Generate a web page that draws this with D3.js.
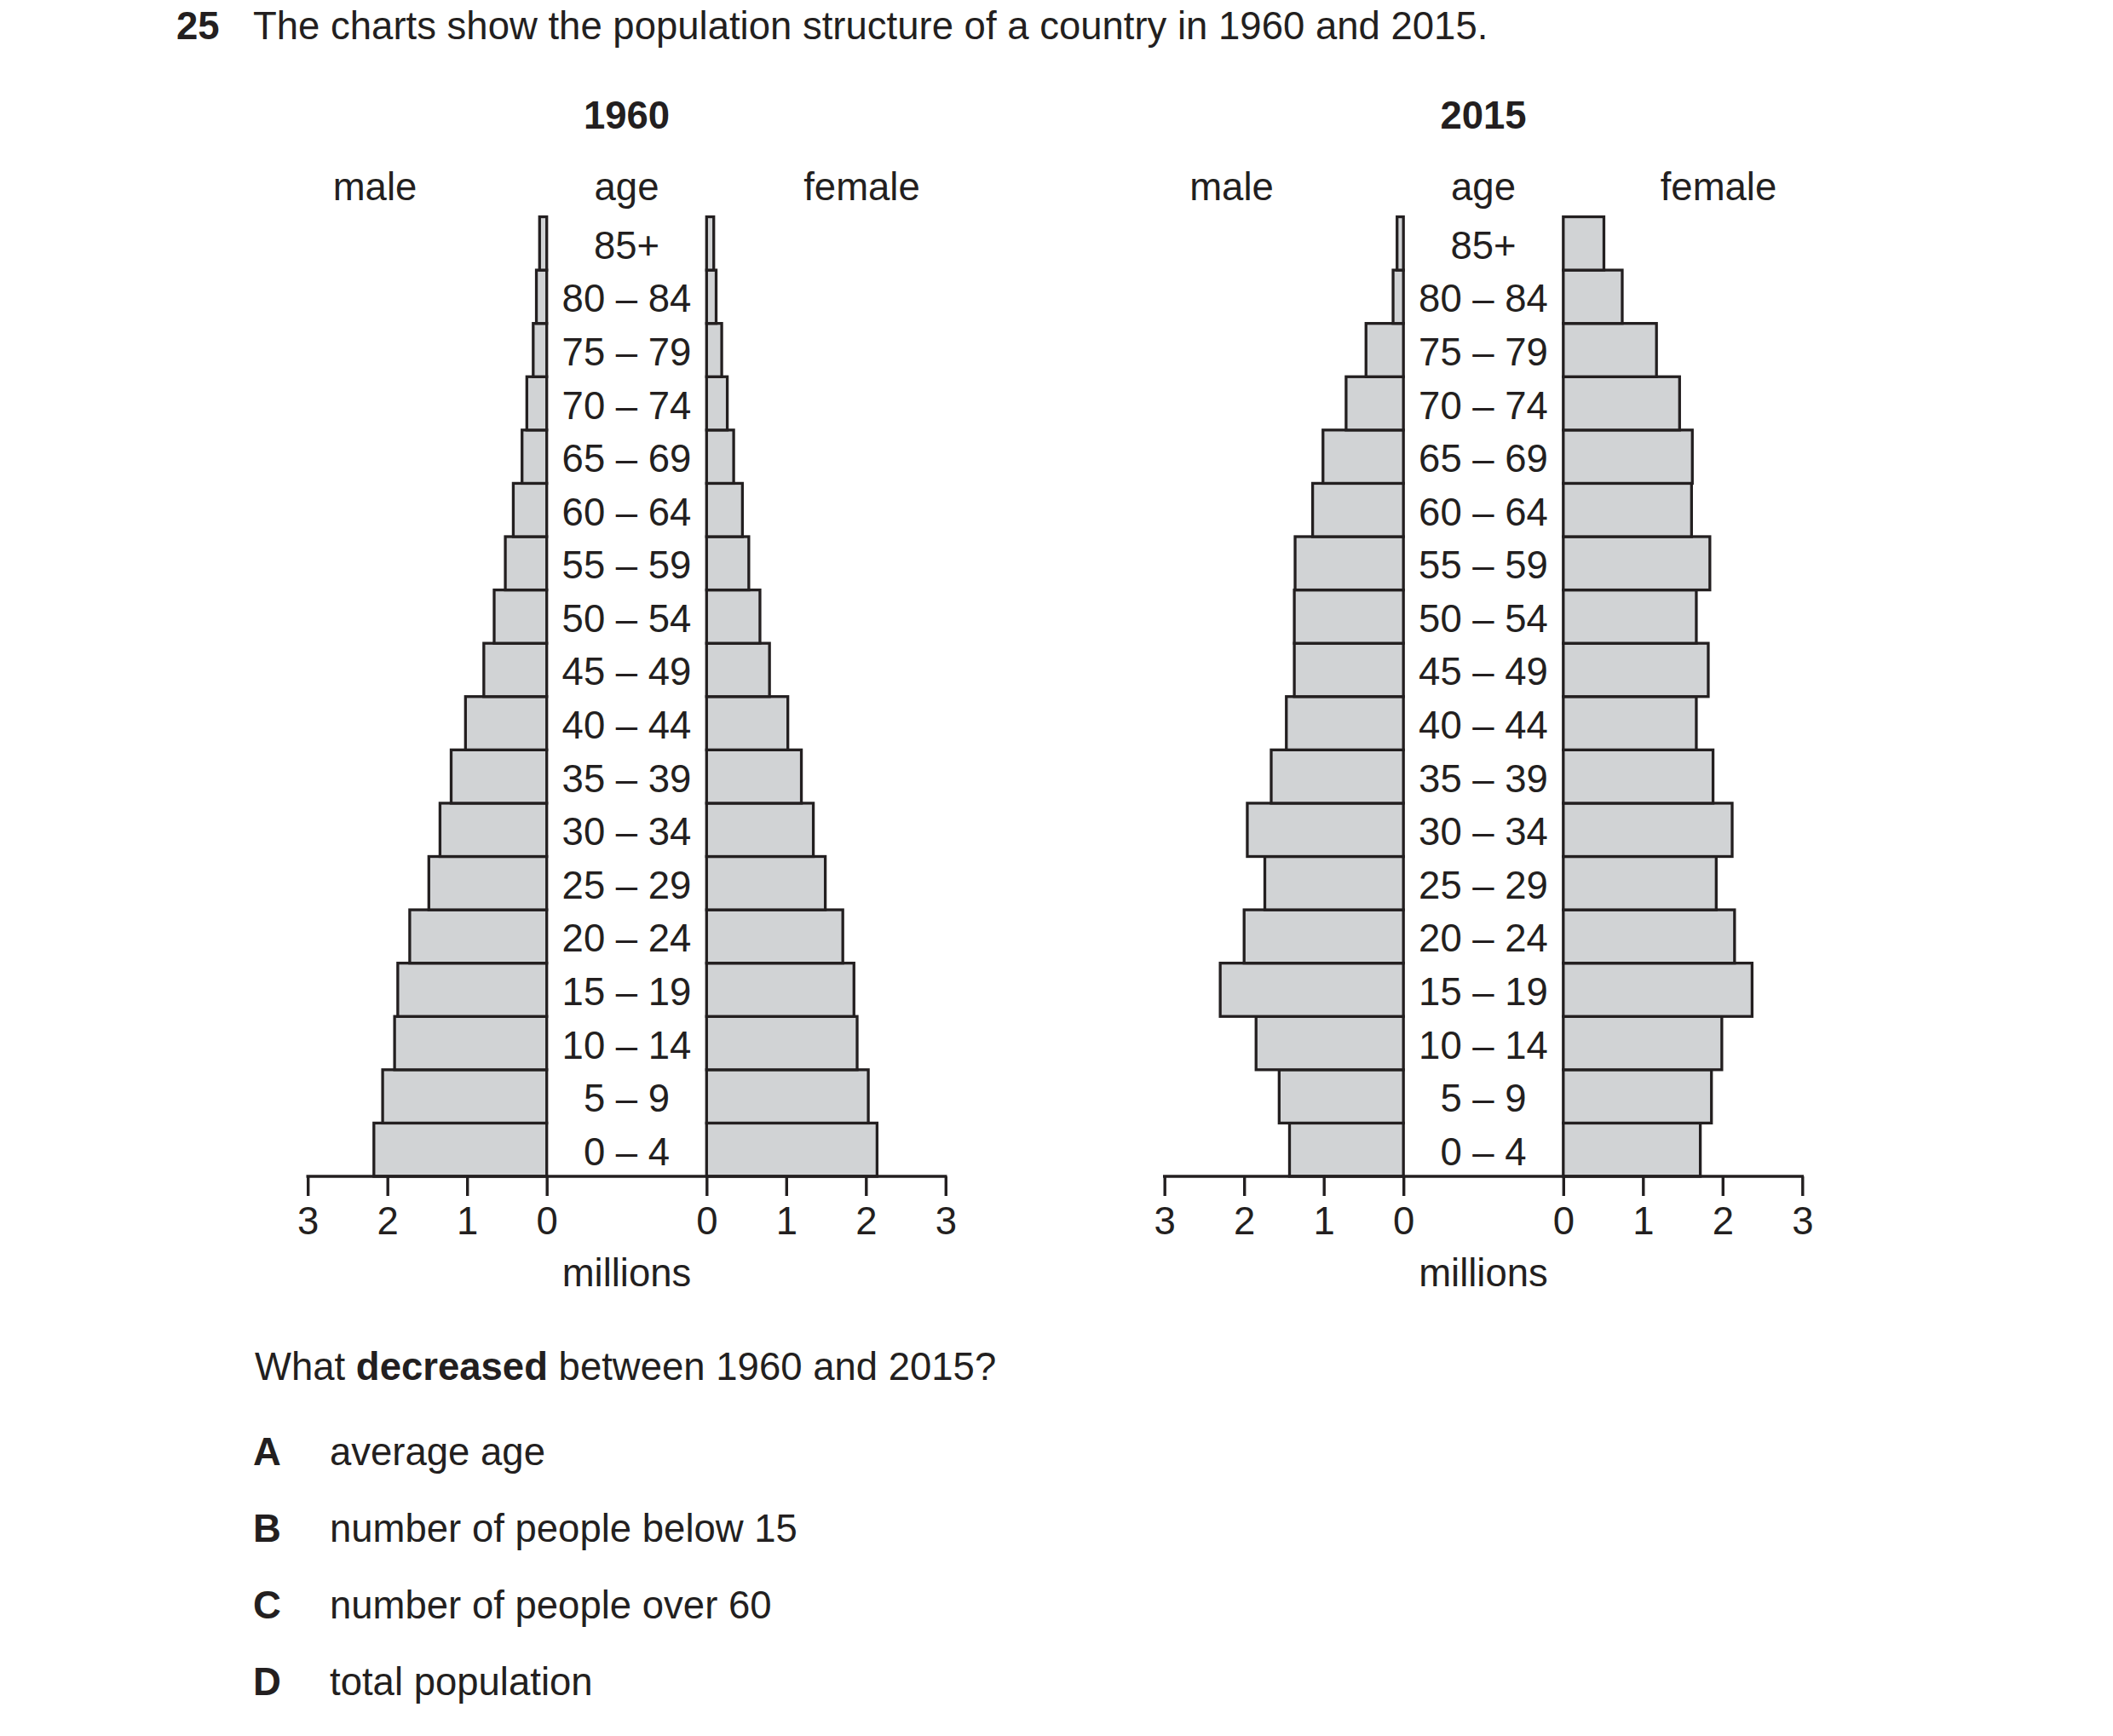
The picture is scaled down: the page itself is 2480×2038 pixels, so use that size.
<!DOCTYPE html>
<html>
<head>
<meta charset="utf-8">
<script src="https://cdn.jsdelivr.net/npm/d3@7/dist/d3.min.js"></script>
<style>
  html, body { margin: 0; padding: 0; background: #ffffff; }
  svg { display: block; }
  text { font-family: "Liberation Sans", Arial, Helvetica, sans-serif; fill: #231f20; }
</style>
</head>
<body>
<svg id="chart" width="2480" height="2038"></svg>
<script>
// ---- data ----
const ages = ["0 – 4","5 – 9","10 – 14","15 – 19","20 – 24","25 – 29","30 – 34","35 – 39",
  "40 – 44","45 – 49","50 – 54","55 – 59","60 – 64","65 – 69","70 – 74","75 – 79","80 – 84","85+"];
const male1960   = [2.17,2.06,1.91,1.87,1.72,1.48,1.34,1.20,1.02,0.79,0.66,0.52,0.42,0.31,0.25,0.17,0.13,0.09];
const female1960 = [2.14,2.03,1.89,1.85,1.71,1.49,1.34,1.19,1.02,0.79,0.67,0.53,0.45,0.34,0.26,0.19,0.12,0.09];
const male2015   = [1.43,1.56,1.85,2.30,2.00,1.74,1.96,1.66,1.47,1.37,1.37,1.36,1.14,1.01,0.72,0.47,0.13,0.08];
const female2015 = [1.72,1.86,1.99,2.37,2.15,1.92,2.12,1.88,1.67,1.82,1.67,1.84,1.61,1.62,1.46,1.17,0.74,0.51];
const years = ["1960","2015"];
const tickValues = [0,1,2,3];
const questionNumber = "25";
const titleText = "The charts show the population structure of a country in 1960 and 2015.";
const options = [
  ["A","average age"],
  ["B","number of people below 15"],
  ["C","number of people over 60"],
  ["D","total population"]
];

// ---- layout ----
const svg = d3.select("#chart");
const FS = 45.5;
const ink = "#231f20";
const fillGrey = "#d1d3d5";
const plotTop = 254.5, axisY = 1381;
const chartOffsets = [0, 1005.5];
const maleZero = 641.7, femaleZero = 829.3, span = 280.5, center = 735.5;

const y = d3.scaleBand().domain(ages.slice().reverse()).range([plotTop, axisY]).padding(0);

svg.append("text").attr("x", 207).attr("y", 46).attr("font-size", FS).attr("font-weight", "bold").text(questionNumber);
svg.append("text").attr("x", 297).attr("y", 46).attr("font-size", FS).text(titleText);

const datasets = [[male1960, female1960], [male2015, female2015]];

datasets.forEach((ds, i) => {
  const off = chartOffsets[i];
  const g = svg.append("g").attr("transform", `translate(${off},0)`);
  const xM = d3.scaleLinear().domain([0, 3]).range([maleZero, maleZero - span]);
  const xF = d3.scaleLinear().domain([0, 3]).range([femaleZero, femaleZero + span]);
  const [m, f] = ds;

  g.append("text").attr("x", center).attr("y", 151).attr("text-anchor", "middle")
    .attr("font-size", FS).attr("font-weight", "bold").text(years[i]);
  g.append("text").attr("x", 440).attr("y", 235).attr("text-anchor", "middle").attr("font-size", FS).text("male");
  g.append("text").attr("x", center).attr("y", 235).attr("text-anchor", "middle").attr("font-size", FS).text("age");
  g.append("text").attr("x", 1011.5).attr("y", 235).attr("text-anchor", "middle").attr("font-size", FS).text("female");

  g.selectAll("rect.m").data(ages).join("rect").attr("class", "m")
    .attr("x", (d, k) => xM(m[k])).attr("width", (d, k) => xM(0) - xM(m[k]))
    .attr("y", d => y(d)).attr("height", y.bandwidth())
    .attr("fill", fillGrey).attr("stroke", ink).attr("stroke-width", 3.3);
  g.selectAll("rect.f").data(ages).join("rect").attr("class", "f")
    .attr("x", xF(0)).attr("width", (d, k) => xF(f[k]) - xF(0))
    .attr("y", d => y(d)).attr("height", y.bandwidth())
    .attr("fill", fillGrey).attr("stroke", ink).attr("stroke-width", 3.3);

  g.selectAll("text.age").data(ages).join("text").attr("class", "age")
    .attr("x", center).attr("y", d => y(d) + y.bandwidth() / 2 + 18)
    .attr("text-anchor", "middle").attr("font-size", FS).text(d => d);

  // axes
  [xM, xF].forEach(sc => {
    const ax = g.append("g").attr("transform", `translate(0,${axisY})`)
      .call(d3.axisBottom(sc).tickValues(tickValues).tickSize(23).tickSizeOuter(0).tickFormat(d3.format("d")));
    ax.select(".domain").remove();
    ax.selectAll(".tick line").attr("stroke", ink).attr("stroke-width", 3.4);
    ax.selectAll(".tick text").attr("dy", null).attr("y", 67.5)
      .attr("font-size", FS).attr("font-family", "'Liberation Sans', Arial, sans-serif").attr("fill", ink);
  });
  g.append("line").attr("x1", xM(3) - 1.7).attr("x2", xF(3) + 1.7)
    .attr("y1", axisY).attr("y2", axisY).attr("stroke", ink).attr("stroke-width", 3.4);

  g.append("text").attr("x", center).attr("y", 1510).attr("text-anchor", "middle").attr("font-size", FS).text("millions");
});

// question
const q = svg.append("text").attr("x", 299).attr("y", 1620).attr("font-size", FS);
q.append("tspan").text("What ");
q.append("tspan").attr("font-weight", "bold").text("decreased");
q.append("tspan").text(" between 1960 and 2015?");

options.forEach((o, k) => {
  const yy = 1720 + k * 90;
  svg.append("text").attr("x", 297).attr("y", yy).attr("font-size", FS).attr("font-weight", "bold").text(o[0]);
  svg.append("text").attr("x", 387).attr("y", yy).attr("font-size", FS).text(o[1]);
});
</script>
</body>
</html>
